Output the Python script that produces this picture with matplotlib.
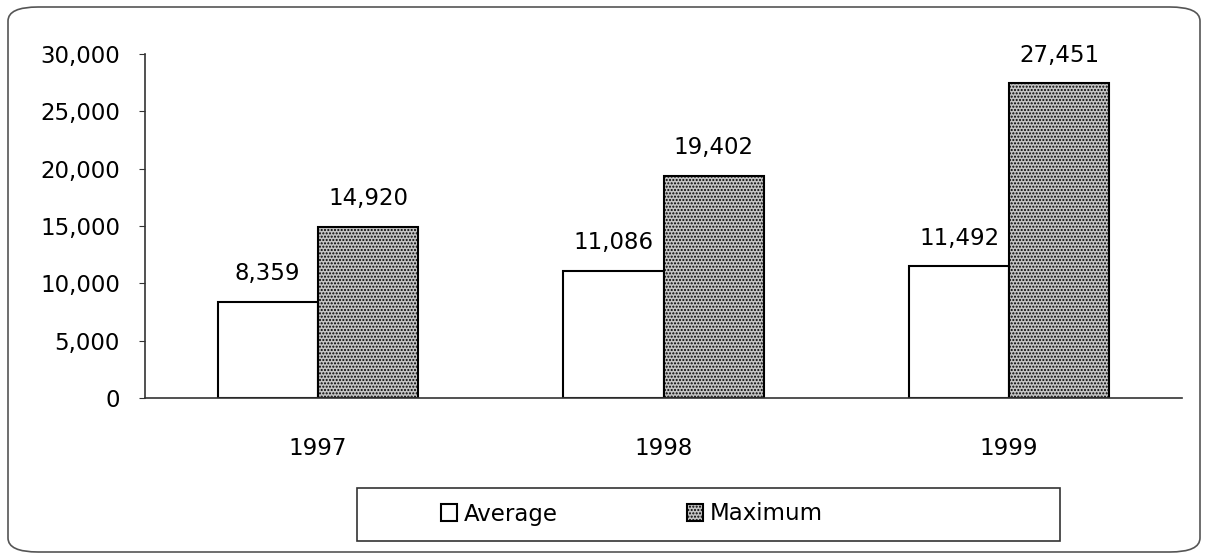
import matplotlib
matplotlib.use("Agg")
import matplotlib.pyplot as plt
import numpy as np
from matplotlib.patches import FancyBboxPatch, Rectangle

years = ["1997", "1998", "1999"]
average = [8359, 11086, 11492]
maximum = [14920, 19402, 27451]
series_names = ["Average", "Maximum"]
yticks = [0, 5000, 10000, 15000, 20000, 25000, 30000]

plt.rcParams['font.family'] = ['DejaVu Sans']
plt.rcParams['hatch.linewidth'] = 1.0

FS = 16.5
W, H = 1208, 560
fig = plt.figure(figsize=(W / 100, H / 100), dpi=100)
fig.patch.set_facecolor('white')

# rounded outer frame
frame = FancyBboxPatch((8 / W, 8 / H), (1200 - 8) / W, (553 - 8) / H,
                       boxstyle="round,pad=0,rounding_size=0.025",
                       transform=fig.transFigure, fill=False,
                       edgecolor='#555555', linewidth=1.2)
fig.patches.append(frame)

ax = fig.add_axes([145 / W, 1 - 398 / H, (1182 - 145) / W, (398 - 54) / H])
x = np.arange(len(years))
bw = 0.29
b1 = ax.bar(x - bw / 2, average, width=bw, facecolor='white', edgecolor='black',
            linewidth=1.5, label=series_names[0])
b2 = ax.bar(x + bw / 2, maximum, width=bw, facecolor='#c4c4c4', edgecolor='black',
            hatch='.....', linewidth=1.5, label=series_names[1])

for xi, v in zip(x - bw / 2, average):
    ax.annotate(f"{v:,}", (xi, v), xytext=(0, 12), textcoords='offset points',
                ha='center', va='bottom', fontsize=FS)
for xi, v in zip(x + bw / 2, maximum):
    ax.annotate(f"{v:,}", (xi, v), xytext=(0, 12), textcoords='offset points',
                ha='center', va='bottom', fontsize=FS)

ax.set_xlim(-0.5, 2.5)
ax.set_ylim(0, 30000)
ax.set_yticks(yticks)
ax.set_yticklabels([f"{t:,}" for t in yticks], fontsize=FS)
ax.set_xticks(x)
ax.set_xticklabels(years, fontsize=FS)
ax.tick_params(axis='x', length=0, pad=28)
ax.tick_params(axis='y', length=4, pad=14, color='#333333')
for s in ('top', 'right'):
    ax.spines[s].set_visible(False)
for s in ('left', 'bottom'):
    ax.spines[s].set_color('#333333')
    ax.spines[s].set_linewidth(1.2)
ax.set_facecolor('none')

# legend box
lb = Rectangle((357 / W, 1 - 541 / H), (1060 - 357) / W, (541 - 488) / H,
               transform=fig.transFigure, fill=False, edgecolor='#333333', linewidth=1.2)
fig.patches.append(lb)
leg = fig.legend(handles=[b1, b2], labels=series_names, loc='center',
                 bbox_to_anchor=(632 / W, 1 - 514 / H), ncol=2, frameon=False,
                 fontsize=FS, handlelength=0.7, handleheight=0.7,
                 handletextpad=0.3, columnspacing=5.6)

fig.savefig("out.png", dpi=100, facecolor='white')
